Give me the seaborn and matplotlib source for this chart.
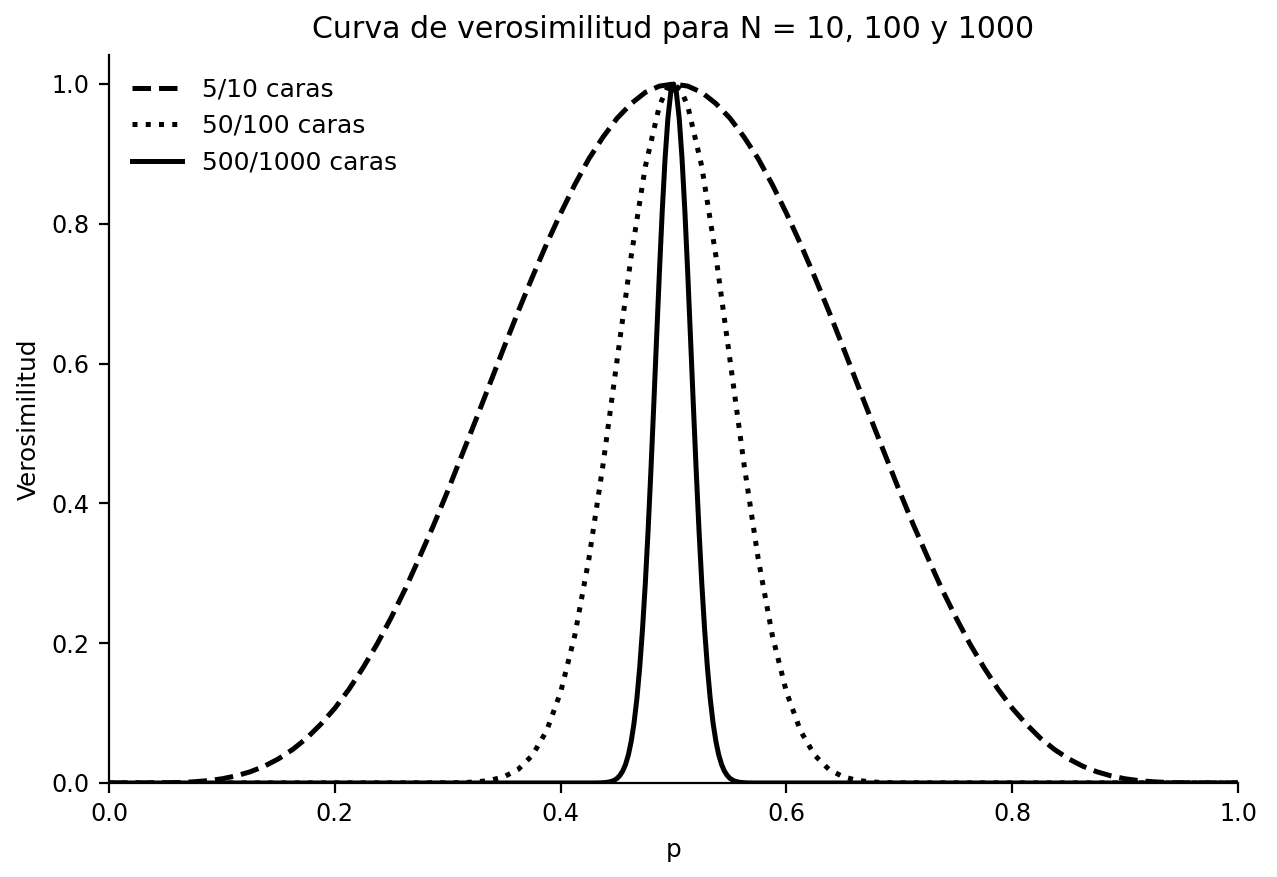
import matplotlib
matplotlib.use("Agg")
import matplotlib.pyplot as plt
import seaborn as sns
import pandas as pd

# Values (normalized likelihood)
p10 = [0.0, 0.0125, 0.025, 0.0375, 0.05, 0.0625, 0.075, 0.0875, 0.1, 0.1125, 0.125, 0.1375,
       0.15, 0.1625, 0.175, 0.1875, 0.2, 0.2125, 0.225, 0.2375, 0.25, 0.2625, 0.275, 0.2875,
       0.3, 0.3125, 0.325, 0.3375, 0.35, 0.3625, 0.375, 0.3875, 0.4, 0.4125, 0.425, 0.4375,
       0.45, 0.4625, 0.475, 0.4875, 0.5, 0.5125, 0.525, 0.5375, 0.55, 0.5625, 0.575, 0.5875,
       0.6, 0.6125, 0.625, 0.6375, 0.65, 0.6625, 0.675, 0.6875, 0.7, 0.7125, 0.725, 0.7375,
       0.75, 0.7625, 0.775, 0.7875, 0.8, 0.8125, 0.825, 0.8375, 0.85, 0.8625, 0.875, 0.8875,
       0.9, 0.9125, 0.925, 0.9375, 0.95, 0.9625, 0.975, 0.9875, 1.0]
v10 = [0.0, 0.0, 0.0, 0.0001, 0.0002, 0.0007, 0.0017, 0.0033, 0.006, 0.0102, 0.016, 0.024,
       0.0345, 0.0478, 0.064, 0.084, 0.107, 0.134, 0.165, 0.199, 0.237, 0.278, 0.323, 0.369,
       0.418, 0.469, 0.520, 0.572, 0.624, 0.675, 0.724, 0.771, 0.815, 0.856, 0.893, 0.924,
       0.951, 0.972, 0.988, 0.997, 1.0, 0.997, 0.988, 0.972, 0.951, 0.924, 0.893, 0.856,
       0.815, 0.771, 0.724, 0.675, 0.624, 0.572, 0.520, 0.469, 0.418, 0.369, 0.323, 0.278,
       0.237, 0.199, 0.165, 0.134, 0.107, 0.084, 0.064, 0.0478, 0.0345, 0.024, 0.016, 0.0102,
       0.006, 0.0033, 0.0017, 0.0007, 0.0002, 0.0001, 0.0, 0.0, 0.0]

p100 = [0.0, 0.3, 0.3125, 0.325, 0.3375, 0.35, 0.3625, 0.375, 0.3875, 0.4, 0.4125, 0.425, 0.4375,
        0.45, 0.4625, 0.475, 0.4875, 0.49375, 0.5, 0.50625, 0.5125, 0.525, 0.5375, 0.55, 0.5625,
        0.575, 0.5875, 0.6, 0.6125, 0.625, 0.6375, 0.65, 0.6625, 0.675, 0.6875, 0.7, 1.0]
v100 = [0.0, 0.0002, 0.0005, 0.0015, 0.0038, 0.009, 0.0196, 0.0397, 0.0744, 0.130, 0.211, 0.3205, 0.455,
        0.605, 0.754, 0.882, 0.969, 0.992, 1.0, 0.992, 0.969, 0.882, 0.754, 0.605, 0.455,
        0.3205, 0.211, 0.130, 0.0744, 0.0397, 0.0196, 0.009, 0.0038, 0.0015, 0.0005, 0.0002, 0.0]

p1000 = [0.0, 0.43, 0.435, 0.44, 0.4425, 0.445, 0.4475, 0.45, 0.4525, 0.455, 0.4575, 0.46, 0.4625,
         0.465, 0.4675, 0.47, 0.4725, 0.475, 0.4775, 0.48, 0.4825, 0.485, 0.4875, 0.49, 0.4925,
         0.495, 0.4975, 0.5, 0.5025, 0.505, 0.5075, 0.51, 0.5125, 0.515, 0.5175, 0.52, 0.5225,
         0.525, 0.5275, 0.53, 0.5325, 0.535, 0.5375, 0.54, 0.5425, 0.545, 0.5475, 0.55, 0.5525,
         0.555, 0.5575, 0.56, 0.565, 0.57, 1.0]
v1000 = [0.0, 0.00005, 0.0002, 0.0007, 0.0013, 0.0023, 0.0039, 0.0066, 0.0108, 0.0172, 0.0266, 0.0403, 0.0596,
         0.0858, 0.1204, 0.165, 0.2199, 0.286, 0.3629, 0.449, 0.5418, 0.6375, 0.7316, 0.819, 0.8936,
         0.951, 0.9876, 1.0, 0.9876, 0.951, 0.8936, 0.819, 0.7316, 0.6375, 0.5418, 0.449, 0.3629,
         0.286, 0.2199, 0.165, 0.1204, 0.0858, 0.0596, 0.0403, 0.0266, 0.0172, 0.0108, 0.0066, 0.0039,
         0.0023, 0.0013, 0.0007, 0.0002, 0.00005, 0.0]

labels = ["5/10 caras", "50/100 caras", "500/1000 caras"]
styles = ["--", ":", "-"]

fig, ax = plt.subplots(figsize=(6.385, 4.385), dpi=200)
fig.subplots_adjust(left=0.0854, right=0.9695, top=0.9373, bottom=0.1072)

for (px, vy), lab, ls in zip([(p10, v10), (p100, v100), (p1000, v1000)], labels, styles):
    df = pd.DataFrame({"p": px, "v": vy})
    sns.lineplot(data=df, x="p", y="v", ax=ax, color="black", linestyle=ls, linewidth=1.8, label=lab)

ax.set_xlim(0, 1)
ax.set_ylim(0, 1.0415)
ax.set_xlabel("p", fontsize=8.9)
ax.set_ylabel("Verosimilitud", fontsize=8.9)
ax.set_title("Curva de verosimilitud para N = 10, 100 y 1000", fontsize=10.8)
ax.tick_params(labelsize=8.6)
ax.legend(loc="upper left", frameon=False, fontsize=9.0)
sns.despine(ax=ax)

fig.savefig("out.png", dpi=200)
